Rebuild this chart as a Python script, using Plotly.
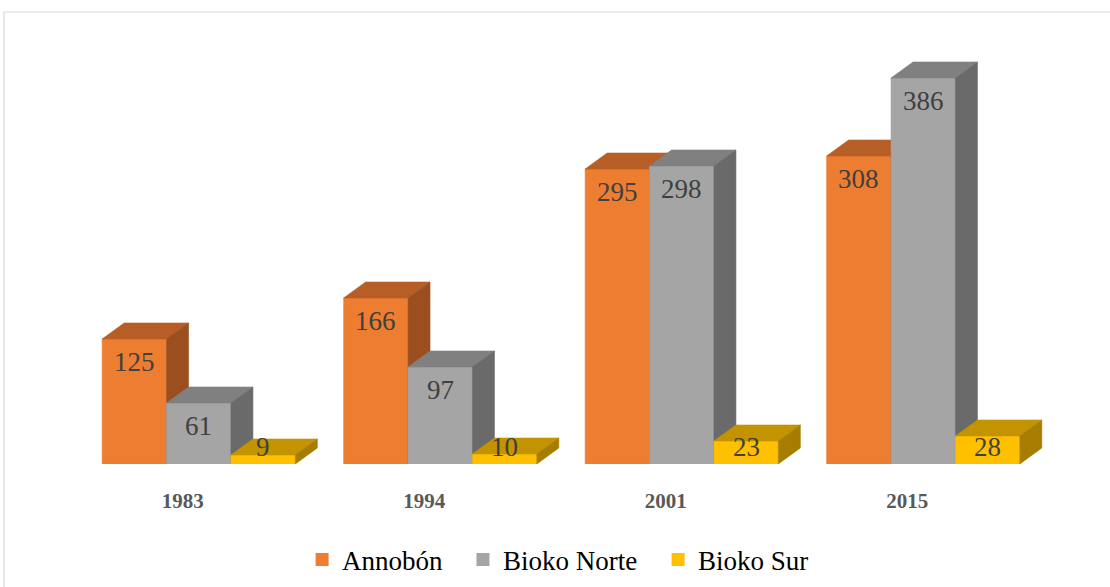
import plotly.graph_objects as go

years = ["1983", "1994", "2001", "2015"]
series = ["Annobón", "Bioko Norte", "Bioko Sur"]
annobon = [125, 166, 295, 308]
bioko_norte = [61, 97, 298, 386]
bioko_sur = [9, 10, 23, 28]

values = [annobon, bioko_norte, bioko_sur]
front_colors = ["#ED7D31", "#A5A5A5", "#FFC000"]
top_colors = ["#B65E25", "#808080", "#C49300"]
side_colors = ["#9C4F1E", "#6A6A6A", "#A67D00"]

FONT = "Liberation Serif, Times New Roman, serif"
group_w = 0.8
bw = group_w / len(series)
dx = 0.091   # depth offset in category units
dy = 16      # depth offset in value units

fig = go.Figure()

def poly(xs, ys, color):
    fig.add_trace(go.Scatter(
        x=xs + [xs[0]], y=ys + [ys[0]], mode="lines", fill="toself",
        fillcolor=color, line=dict(color=color, width=0.6),
        hoverinfo="skip", showlegend=False))

annotations = []
for i, yr in enumerate(years):
    for j in range(len(series)):
        v = values[j][i]
        L = i - group_w / 2 + j * bw
        R = L + bw
        poly([L, R, R, L], [0, 0, v, v], front_colors[j])
        poly([L, R, R + dx, L + dx], [v, v, v + dy, v + dy], top_colors[j])
        poly([R, R + dx, R + dx, R], [0, dy, v + dy, v], side_colors[j])
        annotations.append(dict(
            x=(L + R) / 2, y=max(v - 23, 17), xref="x", yref="y",
            text=str(v), showarrow=False,
            font=dict(family=FONT, size=27, color="#404040")))

legend_names = ["legend", "legend2", "legend3"]
legend_x = [0.232, 0.3985, 0.6005]
for j, name in enumerate(series):
    fig.add_trace(go.Scatter(
        x=[None], y=[None], mode="markers", name=name, legend=legend_names[j],
        marker=dict(symbol="square", size=13, color=front_colors[j])))

legend_common = dict(orientation="h", xanchor="left", y=-0.216, yanchor="middle",
                     font=dict(family=FONT, size=27, color="#000000"),
                     bgcolor="rgba(0,0,0,0)", borderwidth=0)

fig.update_layout(
    width=1110, height=587,
    font=dict(family=FONT),
    margin=dict(l=78, r=66, t=20, b=123, autoexpand=False),
    paper_bgcolor="white", plot_bgcolor="white",
    xaxis=dict(range=[-0.5, 3.5], showgrid=False, zeroline=False, showline=False,
               tickvals=[i - 0.066 for i in range(len(years))], ticktext=years,
               ticks="", ticklabelstandoff=22,
               tickfont=dict(family=FONT, size=21, color="#595959", weight="bold")),
    yaxis=dict(range=[0, 444], visible=False),
    showlegend=True,
    legend=dict(x=legend_x[0], **legend_common),
    legend2=dict(x=legend_x[1], **legend_common),
    legend3=dict(x=legend_x[2], **legend_common),
    annotations=annotations,
    shapes=[dict(type="rect", xref="paper", yref="paper",
                 x0=-0.0766, x1=1.2, y0=-0.6, y1=1.018,
                 line=dict(color="#D9D9D9", width=1.2), fillcolor="rgba(0,0,0,0)",
                 layer="below")],
)

fig.write_html("out.html", config={"displayModeBar": False},
               post_script="document.body.style.margin='0';")
